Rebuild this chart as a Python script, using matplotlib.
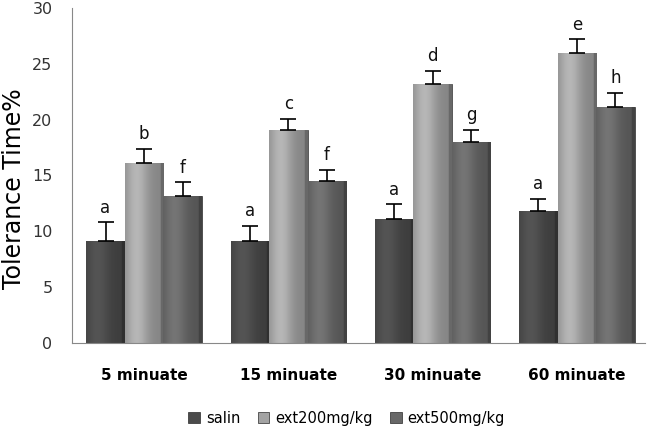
import matplotlib.pyplot as plt
import numpy as np
from matplotlib.colors import to_rgb

groups = ['5 minuate', '15 minuate', '30 minuate', '60 minuate']
series = ['salin', 'ext200mg/kg', 'ext500mg/kg']
salin = [9.1, 9.1, 11.1, 11.8]
ext200 = [16.1, 19.1, 23.2, 26.0]
ext500 = [13.2, 14.5, 18.0, 21.1]
salin_err = [1.7, 1.4, 1.3, 1.1]
ext200_err = [1.3, 1.0, 1.2, 1.2]
ext500_err = [1.2, 1.0, 1.1, 1.3]
salin_lbl = ['a', 'a', 'a', 'a']
ext200_lbl = ['b', 'c', 'd', 'e']
ext500_lbl = ['f', 'f', 'g', 'h']

colors = ['#4b4b4b', '#a3a3a3', '#686868']

fig = plt.figure(figsize=(6.48, 4.28), dpi=100)
ax = fig.add_axes([0.111, 0.199, 0.884, 0.782])

# horizontal shading across a bar, gives the bevel look
prof = np.linspace(0, 1, 60)
shade = 0.82 + 0.3 * np.exp(-((prof - 0.3) / 0.3) ** 2) - 0.18 * (prof > 0.93)

x = np.arange(len(groups))
w = 0.267
data = [(salin, salin_err, salin_lbl), (ext200, ext200_err, ext200_lbl), (ext500, ext500_err, ext500_lbl)]
for i, (vals, errs, lbls) in enumerate(data):
  pos = x + (i - 1) * w
  bars = ax.bar(pos, vals, w, color=colors[i], edgecolor='#2a2a2a', linewidth=0.5, label=series[i])
  base = np.array(to_rgb(colors[i]))
  img = np.clip(shade[None, :, None] * base[None, None, :], 0, 1)
  for b in bars:
    x0, y0 = b.get_x(), b.get_y()
    im = ax.imshow(img, extent=[x0, x0 + b.get_width(), y0, y0 + b.get_height()],
                   aspect='auto', zorder=b.get_zorder() + 0.1, interpolation='bilinear')
    im.set_clip_path(b)
  ax.errorbar(pos, vals, yerr=[np.zeros(len(vals)), errs], fmt='none', ecolor='black',
              elinewidth=1.2, capsize=6, capthick=1.2, zorder=3)
  for p, v, e, l in zip(pos, vals, errs, lbls):
    ax.text(p, v + e + 0.5, l, ha='center', va='bottom', fontsize=12, color='#111111')

ax.set_xlim(-0.5, 3.47)
ax.set_ylim(0, 30)
ax.set_yticks([0, 5, 10, 15, 20, 25, 30])
ax.set_xticks(x)
ax.set_xticklabels(groups, fontsize=11, fontweight='bold')
ax.tick_params(axis='x', length=0, pad=18)
ax.tick_params(axis='y', length=0, pad=14, labelsize=11.5, labelcolor='#333333')
for s in ['top', 'right']:
  ax.spines[s].set_visible(False)
ax.spines['left'].set_color('#888888')
ax.spines['bottom'].set_color('#888888')
ax.set_ylabel('Tolerance Time%', fontsize=17)
ax.yaxis.set_label_coords(-0.08, 0.46)

fig.legend(loc='lower center', bbox_to_anchor=(0.535, -0.025), ncol=3, frameon=False,
           fontsize=10.5, handlelength=0.8, handleheight=0.8, columnspacing=1.2, handletextpad=0.4)
plt.savefig('out.png')
